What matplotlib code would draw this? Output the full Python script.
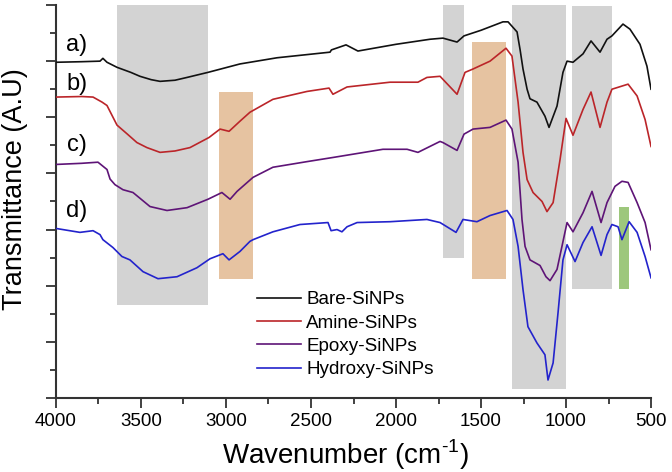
import numpy as np
import matplotlib
matplotlib.use("Agg")
import matplotlib.pyplot as plt
from matplotlib.ticker import MultipleLocator

# FTIR spectra (wavenumber in cm-1, transmittance offset in a.u.)
bare_wn = [4000, 3850, 3741, 3724, 3700, 3641, 3560, 3506, 3440, 3388, 3300, 3229,
           3106, 2918, 2700, 2388, 2380, 2294, 2224, 2000, 1800, 1724, 1641, 1600,
           1500, 1371, 1341, 1288, 1270, 1253, 1229, 1212, 1171, 1124, 1100, 1053,
           1018, 994, 959, 900, 853, 800, 759, 730, 665, 624, 565, 524, 500]
bare_t = [5.98, 5.99, 6.00, 6.05, 5.98, 5.89, 5.80, 5.73, 5.67, 5.64, 5.66, 5.71,
          5.80, 5.95, 6.06, 6.16, 6.20, 6.29, 6.18, 6.30, 6.39, 6.41, 6.34, 6.45,
          6.55, 6.70, 6.70, 6.52, 6.20, 5.86, 5.50, 5.33, 5.27, 5.02, 4.82, 5.20,
          5.80, 6.00, 5.98, 6.13, 6.36, 6.16, 6.39, 6.45, 6.66, 6.57, 6.30, 5.91, 5.50]

amine_wn = [4000, 3850, 3782, 3729, 3700, 3641, 3580, 3524, 3465, 3388, 3300, 3212,
            3100, 3035, 2982, 2918, 2859, 2724, 2524, 2394, 2371, 2288, 2035, 1871,
            1818, 1741, 1641, 1594, 1547, 1447, 1353, 1318, 1282, 1253, 1229, 1194,
            1141, 1112, 1076, 1035, 1000, 959, 900, 853, 800, 759, 730, 635, 582,
            535, 500]
amine_t = [5.36, 5.37, 5.36, 5.27, 5.21, 4.86, 4.70, 4.55, 4.46, 4.375, 4.40, 4.46,
           4.64, 4.79, 4.75, 4.93, 5.09, 5.32, 5.46, 5.52, 5.41, 5.54, 5.625, 5.625,
           5.71, 5.73, 5.41, 5.80, 5.86, 6.00, 6.23, 6.09, 5.27, 4.375, 3.89, 3.66,
           3.50, 3.32, 3.48, 4.25, 4.98, 4.68, 5.14, 5.45, 4.82, 5.27, 5.50, 5.59,
           5.38, 4.96, 4.48]

epoxy_wn = [4000, 3850, 3753, 3700, 3682, 3653, 3606, 3547, 3447, 3347, 3229, 3106,
            3024, 2976, 2935, 2841, 2724, 2524, 2359, 2077, 1935, 1871, 1741, 1724,
            1641, 1600, 1547, 1447, 1353, 1318, 1282, 1259, 1241, 1212, 1153, 1118,
            1094, 1053, 1024, 994, 959, 900, 847, 794, 759, 712, 671, 635, 582, 535, 500]
epoxy_t = [4.16, 4.18, 4.20, 4.07, 3.90, 3.80, 3.71, 3.66, 3.41, 3.34, 3.39, 3.54,
           3.66, 3.54, 3.68, 3.93, 4.11, 4.21, 4.29, 4.43, 4.43, 4.375, 4.57, 4.55,
           4.41, 4.70, 4.79, 4.82, 4.95, 4.79, 4.20, 3.18, 2.70, 2.46, 2.36, 2.16,
           2.09, 2.29, 2.70, 3.125, 2.96, 3.30, 3.68, 3.125, 3.48, 3.77, 3.86, 3.84,
           3.48, 3.125, 2.64]

hydroxy_wn = [4000, 3859, 3782, 3741, 3724, 3665, 3612, 3565, 3488, 3400, 3288, 3171,
              3094, 3018, 2982, 2918, 2859, 2841, 2724, 2565, 2400, 2382, 2347, 2318,
              2288, 2229, 2035, 1818, 1741, 1647, 1606, 1524, 1447, 1347, 1312, 1282,
              1253, 1224, 1171, 1124, 1106, 1076, 1047, 1018, 994, 947, 900, 847, 794,
              759, 730, 694, 671, 629, 582, 535, 500]
hydroxy_t = [3.02, 2.95, 2.98, 2.91, 2.82, 2.68, 2.52, 2.46, 2.25, 2.125, 2.16, 2.32,
             2.48, 2.57, 2.46, 2.61, 2.79, 2.82, 2.96, 3.09, 3.125, 2.98, 3.00, 2.96,
             3.05, 3.125, 3.14, 3.18, 3.125, 2.95, 3.18, 3.14, 3.25, 3.34, 3.18, 2.70,
             1.93, 1.27, 0.98, 0.77, 0.32, 0.625, 1.52, 2.46, 2.73, 2.43, 2.77, 3.05,
             2.54, 2.91, 3.09, 3.05, 2.82, 3.14, 2.95, 2.52, 2.14]

names = ["Bare-SiNPs", "Amine-SiNPs", "Epoxy-SiNPs", "Hydroxy-SiNPs"]
tags = ["a)", "b)", "c)", "d)"]

# highlighted bands: (from, to, bottom, top, colour)
bands = [(3640, 3105, 1.66, 7.0, "#d3d3d3"),
         (3040, 2840, 2.12, 5.45, "#e6c3a1"),
         (1725, 1600, 2.50, 7.0, "#d3d3d3"),
         (1555, 1355, 2.12, 6.34, "#e6c3a1"),
         (1320, 1000, 0.16, 7.0, "#d3d3d3"),
         (965, 730, 1.95, 6.98, "#d3d3d3"),
         (690, 630, 1.95, 3.41, "#9dc77c")]

plt.rcParams["font.family"] = ["Liberation Sans", "DejaVu Sans"]
plt.rcParams["mathtext.fontset"] = "custom"
plt.rcParams["mathtext.rm"] = "Liberation Sans"
fig = plt.figure(figsize=(6.72, 4.72), dpi=100)
ax = fig.add_axes([0.0833, 0.1568, 0.8855, 0.8326])

for x0, x1, y0, y1, c in bands:
    ax.fill_between([x0, x1], [y0, y0], [y1, y1], color=c, lw=0, zorder=1)

ax.plot(bare_wn, bare_t, color="#111111", lw=1.2, label=names[0], zorder=3)
ax.plot(amine_wn, amine_t, color="#bb2529", lw=1.2, label=names[1], zorder=3)
ax.plot(epoxy_wn, epoxy_t, color="#5e1477", lw=1.2, label=names[2], zorder=3)
ax.plot(hydroxy_wn, hydroxy_t, color="#2323cc", lw=1.2, label=names[3], zorder=3)

tag_y = [6.28, 5.6, 4.5, 3.33]
for t, y in zip(tags, tag_y):
    ax.text(3876, y, t, fontsize=17, ha="center", va="center")

ax.set_xlim(4000, 500)
ax.set_ylim(0, 7.0)
ax.xaxis.set_major_locator(MultipleLocator(500))
ax.xaxis.set_minor_locator(MultipleLocator(250))
ax.yaxis.set_major_locator(MultipleLocator(1))
ax.yaxis.set_minor_locator(MultipleLocator(0.5))
ax.set_yticklabels([])
ax.tick_params(axis="both", which="major", direction="out", length=7, width=1.3,
               color="#333333", labelsize=13.5)
ax.tick_params(axis="both", which="minor", direction="out", length=4, width=1.3,
               color="#333333")
for s in ["top", "right"]:
    ax.spines[s].set_visible(False)
for s in ["left", "bottom"]:
    ax.spines[s].set_linewidth(1.5)
    ax.spines[s].set_color("#333333")

ax.set_xlabel("Wavenumber (cm$^{\\text{-1}}$)", fontsize=20, labelpad=6)
ax.xaxis.label.set_x(0.486)
fig.text(0.023, 0.60, "Transmittance (A.U)", fontsize=19.5, rotation=90,
         ha="center", va="center")

ax.legend(loc="upper left", bbox_to_anchor=(0.338, 0.272), frameon=False,
          fontsize=13.6, handlelength=2.3, handletextpad=0.3, labelspacing=0.32,
          borderpad=0, borderaxespad=0)

plt.savefig("out.png", dpi=100)
